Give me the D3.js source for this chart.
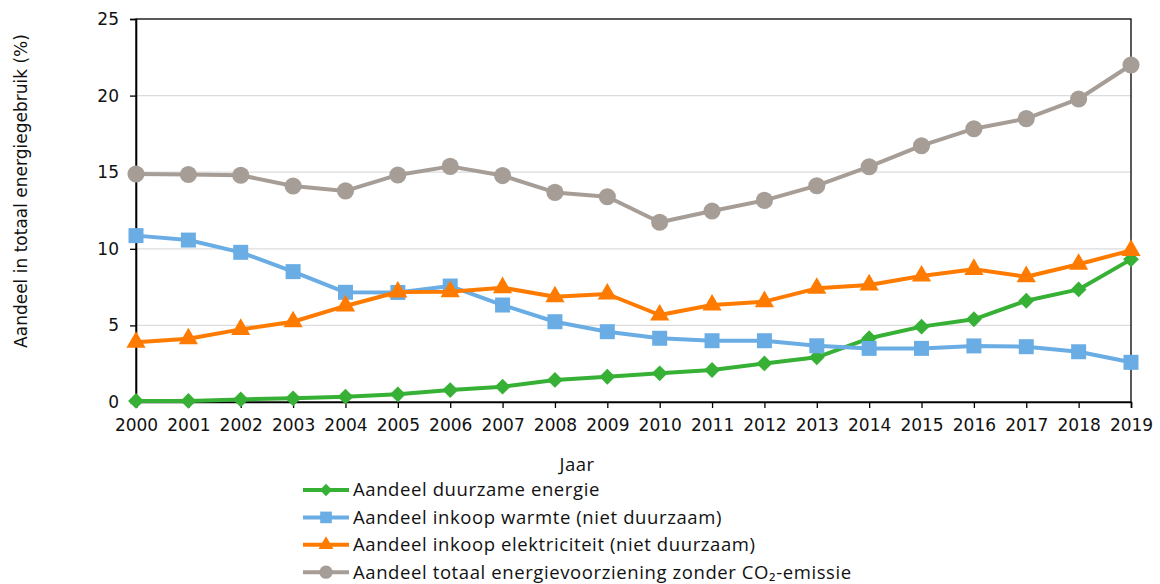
<!DOCTYPE html>
<html>
<head>
<meta charset="utf-8">
<script src="https://cdn.jsdelivr.net/npm/d3@7"></script>
<style>
  body { margin: 0; background: #fff; }
  svg { display: block; }
  .tick text { font-family: "DejaVu Sans", Verdana, sans-serif; font-size: 17px; fill: #111; }
</style>
</head>
<body>
<svg width="1160" height="584"></svg>
<script>
var years = [2000, 2001, 2002, 2003, 2004, 2005, 2006, 2007, 2008, 2009,
             2010, 2011, 2012, 2013, 2014, 2015, 2016, 2017, 2018, 2019];

var duurzaam = [0.07, 0.07, 0.17, 0.24, 0.35, 0.5, 0.78, 1.0, 1.44, 1.65,
                1.87, 2.09, 2.52, 2.92, 4.16, 4.92, 5.4, 6.61, 7.35, 9.31];
var warmte = [10.86, 10.57, 9.77, 8.51, 7.16, 7.15, 7.57, 6.33, 5.24, 4.59,
              4.16, 4.0, 4.0, 3.67, 3.5, 3.5, 3.66, 3.61, 3.28, 2.59];
var elektriciteit = [3.9, 4.13, 4.74, 5.24, 6.27, 7.18, 7.2, 7.46, 6.87, 7.05,
                     5.68, 6.33, 6.55, 7.42, 7.64, 8.22, 8.66, 8.18, 8.99, 9.9];
var totaal = [14.88, 14.85, 14.8, 14.1, 13.78, 14.82, 15.38, 14.78, 13.68, 13.4,
              11.73, 12.47, 13.16, 14.12, 15.36, 16.73, 17.84, 18.5, 19.78, 22.0];

var yTicks = [0, 5, 10, 15, 20, 25];

var series = [
  {name: "Aandeel duurzame energie", values: duurzaam, color: "#36b035", symbol: d3.symbolDiamond2, size: 160},
  {name: "Aandeel inkoop warmte (niet duurzaam)", values: warmte, color: "#6aade4", symbol: d3.symbolSquare, size: 225},
  {name: "Aandeel inkoop elektriciteit (niet duurzaam)", values: elektriciteit, color: "#ff7b00", symbol: d3.symbolTriangle, size: 160},
  {name: "Aandeel totaal energievoorziening zonder CO\u2082-emissie", values: totaal, color: "#a69d96", symbol: d3.symbolCircle, size: 230}
];

var svg = d3.select("svg"),
    margin = {top: 19, right: 29, bottom: 182, left: 136},
    width = 1160 - margin.left - margin.right,
    height = 584 - margin.top - margin.bottom,
    g = svg.append("g").attr("transform", "translate(" + margin.left + "," + margin.top + ")");

var x = d3.scaleLinear().domain([2000, 2019]).range([0, width]);
var y = d3.scaleLinear().domain([0, 25]).range([height, 0]);

// gridlines
g.append("g")
  .selectAll("line")
  .data(yTicks.filter(function(d) { return d > 0 && d < 25; }))
  .enter().append("line")
    .attr("x1", 0).attr("x2", width)
    .attr("y1", function(d) { return y(d); })
    .attr("y2", function(d) { return y(d); })
    .attr("stroke", "#dcdcdc")
    .attr("stroke-width", 1.2);

// frame
g.append("rect")
  .attr("width", width).attr("height", height)
  .attr("fill", "none").attr("stroke", "#000").attr("stroke-width", 1.3);

var xAxis = g.append("g")
  .attr("transform", "translate(0," + height + ")")
  .call(d3.axisBottom(x).tickValues(years).tickFormat(d3.format("d")).tickSize(6).tickPadding(11));
var yAxis = g.append("g")
  .call(d3.axisLeft(y).tickValues(yTicks).tickSize(6).tickPadding(11));
[xAxis, yAxis].forEach(function(a) {
  a.select(".domain").attr("stroke", "#000").attr("stroke-width", 1.6);
  a.selectAll(".tick line").attr("stroke", "#000").attr("stroke-width", 1.3);
});

var line = d3.line()
  .x(function(d, i) { return x(years[i]); })
  .y(function(d) { return y(d); });

series.forEach(function(s) {
  g.append("path")
    .datum(s.values)
    .attr("fill", "none")
    .attr("stroke", s.color)
    .attr("stroke-width", 4)
    .attr("stroke-linejoin", "round")
    .attr("d", line);
  g.append("g").selectAll("path")
    .data(s.values)
    .enter().append("path")
      .attr("transform", function(d, i) { return "translate(" + x(years[i]) + "," + y(d) + ")"; })
      .attr("d", d3.symbol().type(s.symbol).size(s.size))
      .attr("fill", s.color);
});

// axis titles
svg.append("text")
  .attr("transform", "translate(27,191) rotate(-90)")
  .attr("text-anchor", "middle")
  .style("font-family", "'DejaVu Sans', Verdana, sans-serif")
  .style("font-size", "17px")
  .attr("fill", "#111")
  .text("Aandeel in totaal energiegebruik (%)");

svg.append("text")
  .attr("x", 577).attr("y", 471)
  .attr("text-anchor", "middle")
  .style("font-family", "'Open Sans', sans-serif")
  .style("font-size", "18.5px")
  .style("letter-spacing", "0.5px")
  .attr("fill", "#111")
  .text("Jaar");

// legend
var legend = svg.append("g").attr("transform", "translate(303,490)");
var items = legend.selectAll("g")
  .data(series)
  .enter().append("g")
    .attr("transform", function(d, i) { return "translate(0," + (i * 27.4) + ")"; });
items.append("line")
  .attr("x1", 0).attr("x2", 46)
  .attr("stroke", function(d) { return d.color; })
  .attr("stroke-width", 4);
items.append("path")
  .attr("transform", "translate(23,0)")
  .attr("d", function(d) { return d3.symbol().type(d.symbol).size(d.size * 0.6)(); })
  .attr("fill", function(d) { return d.color; });
items.append("text")
  .attr("x", 50).attr("dy", "0.35em")
  .style("font-family", "'Open Sans', sans-serif")
  .style("font-size", "18.5px")
  .style("letter-spacing", "0.6px")
  .attr("fill", "#111")
  .text(function(d) { return d.name; });
</script>
</body>
</html>
